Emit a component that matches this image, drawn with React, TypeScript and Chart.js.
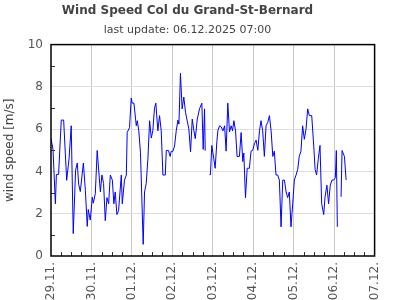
import React, { useEffect, useRef } from "react";
import { Chart, registerables } from "chart.js";

Chart.register(...registerables);

// Hours since 29.11. 00:00 (null speed = missing data)
const hours: number[] = [
  0, 1.2, 2.6, 3.2, 4.5, 6.1, 7.5, 9.3, 10.7, 12.0, 13.2, 14.6, 15.6, 16.4, 17.4, 19.2, 20.4, 21.5, 22.1, 23.3,
  24.5, 25.1, 26.3, 27.4, 29.3, 30.2, 31.2, 32.2, 33.2, 34.2, 35.2, 36.4, 37.3, 38.1, 39.1, 40.1, 41.7, 42.3, 43.6, 44.7,
  45.2, 46.6, 47.6, 48.2, 49.2, 50.6, 51.2, 52.1, 53.1, 54.7, 55.5, 56.5, 57.5, 58.5, 59.5, 60.4, 61.4, 62.2, 63.4, 64.4,
  65.4, 66.4, 67.8, 68.4, 69.7, 70.7, 71.3, 72.3, 73.3, 74.3, 75.3, 75.9, 76.8, 77.8, 78.8, 79.8, 80.8, 81.8, 82.8, 83.8,
  84.8, 85.6, 86.8, 88.1, 89.5, 90.3, 91.1, 91.5, 92.7, 94.0, 94.6, 95.4, 96.6, 97.4, 98.4, 99.0, 100.0, 101.0, 102.0, 103.0,
  103.9, 104.9, 105.9, 106.9, 107.7, 108.5, 109.5, 110.4, 111.8, 112.8, 113.8, 114.4, 115.4, 116.4, 117.7, 118.7, 119.7, 120.7, 121.7, 122.7,
  123.7, 124.6, 125.6, 126.6, 127.6, 128.6, 129.6, 130.6, 131.6, 132.5, 133.5, 134.5, 135.5, 136.5, 137.5, 138.5, 139.5, 140.4, 141.4, 142.4,
  143.4, 144.4, 145.4, 146.4, 147.3, 148.3, 149.3, 150.3, 151.3, 152.3, 153.3, 154.7, 155.9, 156.7, 157.6, 158.6, 159.6, 160.6, 161.8, 162.6,
  163.7, 164.7, 165.7, 166.7, 167.7, 168.7, 169.3, 169.9, 171.0, 172.1, 172.7, 174.1, 175.1,
];

const speed: (number | null)[] = [
  5.56, 5.03, 2.47, 3.86, 3.86, 6.43, 6.43, 3.58, 4.6, 6.16, 1.06, 4.06, 4.4, 3.4, 3.05, 4.4, 3.1, 1.4, 2.2, 1.7,
  2.78, 2.5, 2.95, 4.99, 3.03, 3.83, 3.43, 1.67, 2.76, 2.47, 3.83, 3.59, 2.47, 3.03, 1.96, 2.15, 3.83, 2.47, 3.59, 3.83,
  5.84, 6.08, 7.47, 7.23, 7.23, 6.16, 6.4, 5.92, 4.88, 0.55, 3.03, 3.43, 4.6, 6.4, 5.58, 5.92, 6.99, 7.23, 5.92, 6.64,
  5.92, 3.83, 3.83, 4.99, 4.99, 4.71, 4.95, 4.95, 5.2, 5.92, 6.43, 6.24, 8.64, 6.96, 7.52, 6.8, 6.4, 6.0, 4.92, 6.48,
  5.92, 5.55, 6.48, 6.96, 7.23, 5.04, 6.96, 4.98, null, 3.85, 3.85, 5.23, 4.6, 4.15, 5.4, 5.92, 6.16, 6.11, 5.92, 6.16,
  4.96, 7.23, 5.87, 6.16, 5.92, 6.4, 5.92, 4.71, 4.71, 5.84, 4.47, 4.87, 2.76, 4.15, 4.15, 4.96, 5.0, 5.32, 5.48, 5.0,
  5.92, 6.4, 5.92, 4.71, 6.16, 6.32, 6.64, 5.92, 4.71, 4.96, 3.83, 3.83, 3.59, 1.38, 3.59, 3.59, 3.03, 2.76, 3.03, 1.38,
  2.47, 3.59, 3.83, 4.1, 4.71, 4.96, 6.16, 5.52, 6.0, 6.96, 6.64, 6.64, 5.2, 4.1, 3.83, 4.6, 5.23, 2.47, 1.96, 2.79,
  3.35, 2.47, 3.35, 3.59, 3.59, 3.7, 4.99, 1.38, null, 2.8, 4.99, 4.71, 3.59,
];

const dayLabels: string[] = ["29.11.", "30.11.", "01.12.", "02.12.", "03.12.", "04.12.", "05.12.", "06.12.", "07.12."];
const yTicks: number[] = [0, 2, 4, 6, 8, 10];

const FONT = "'DejaVu Sans', sans-serif";

const frame = {
  id: "frame",
  afterDatasetsDraw(chart: any) {
    const { ctx, chartArea, scales } = chart;
    const { left, right, top, bottom } = chartArea;
    ctx.save();
    ctx.strokeStyle = "#333";
    ctx.lineWidth = 1;
    ctx.beginPath();
    for (const t of scales.x.ticks) {
      if (t.value % 24 !== 0) {
        const px = Math.round(scales.x.getPixelForValue(t.value)) + 0.5;
        ctx.moveTo(px, bottom);
        ctx.lineTo(px, bottom - 4);
      }
    }
    for (const t of scales.y.ticks) {
      if (!yTicks.includes(t.value)) {
        const py = Math.round(scales.y.getPixelForValue(t.value)) + 0.5;
        ctx.moveTo(left, py);
        ctx.lineTo(left + 4, py);
      }
    }
    ctx.stroke();
    ctx.strokeStyle = "#000";
    ctx.lineWidth = 1.5;
    ctx.strokeRect(left, top, right - left, bottom - top);
    ctx.restore();
  },
};

export default function App() {
  const ref = useRef<HTMLCanvasElement>(null);
  useEffect(() => {
    if (!ref.current) return;
    const points = hours.map((h, i) => ({ x: h, y: speed[i] }));
    const chart = new Chart(ref.current, {
      type: "line",
      data: {
        datasets: [
          {
            data: points as any,
            borderColor: "#0000ff",
            borderWidth: 1,
            pointRadius: 0,
            tension: 0,
            spanGaps: false,
          },
        ],
      },
      options: {
        animation: false,
        responsive: true,
        maintainAspectRatio: false,
        layout: { padding: { right: 20, top: 0, left: 0, bottom: 0 } },
        plugins: {
          legend: { display: false },
          tooltip: { enabled: false },
          title: {
            display: true,
            text: "Wind Speed Col du Grand-St-Bernard",
            color: "#444",
            font: { family: FONT, size: 12, weight: "bold" },
            padding: { top: 4, bottom: 5 },
          },
          subtitle: {
            display: true,
            text: "last update: 06.12.2025 07:00",
            color: "#444",
            font: { family: FONT, size: 11 },
            padding: { top: 0, bottom: 8 },
          },
        },
        scales: {
          x: {
            type: "linear",
            min: 0,
            max: 192,
            afterFit: (s: any) => {
              s.height = 44;
            },
            ticks: {
              stepSize: 6,
              autoSkip: false,
              maxRotation: 90,
              minRotation: 90,
              padding: 6,
              color: "#555",
              font: { family: FONT, size: 12 },
              callback: (v: any) => (Number(v) % 24 === 0 ? dayLabels[Number(v) / 24] : ""),
            },
            grid: {
              drawTicks: false,
              color: (c: any) =>
                c.tick && c.tick.value % 24 === 0 && c.tick.value !== 0 && c.tick.value !== 192
                  ? "#c8c8c8"
                  : "rgba(0,0,0,0)",
            },
            border: { display: false },
          },
          y: {
            min: 0,
            max: 10,
            afterFit: (s: any) => {
              s.width = 51;
            },
            ticks: {
              stepSize: 1,
              autoSkip: false,
              padding: 8,
              color: "#555",
              font: { family: FONT, size: 12 },
              callback: (v: any) => (yTicks.includes(Number(v)) ? String(v) : ""),
            },
            grid: {
              drawTicks: false,
              color: (c: any) =>
                c.tick && yTicks.includes(c.tick.value) && c.tick.value !== 0 && c.tick.value !== 10
                  ? "#dddddd"
                  : "rgba(0,0,0,0)",
            },
            border: { display: false },
            title: {
              display: true,
              text: "wind speed [m/s]",
              color: "#444",
              font: { family: FONT, size: 12 },
              padding: { top: 3, bottom: 2 },
            },
          },
        },
      },
      plugins: [frame],
    });
    return () => chart.destroy();
  }, []);
  return (
    <div style={{ position: "absolute", left: 0, top: 0, width: 395, height: 300 }}>
      <canvas ref={ref} />
    </div>
  );
}
